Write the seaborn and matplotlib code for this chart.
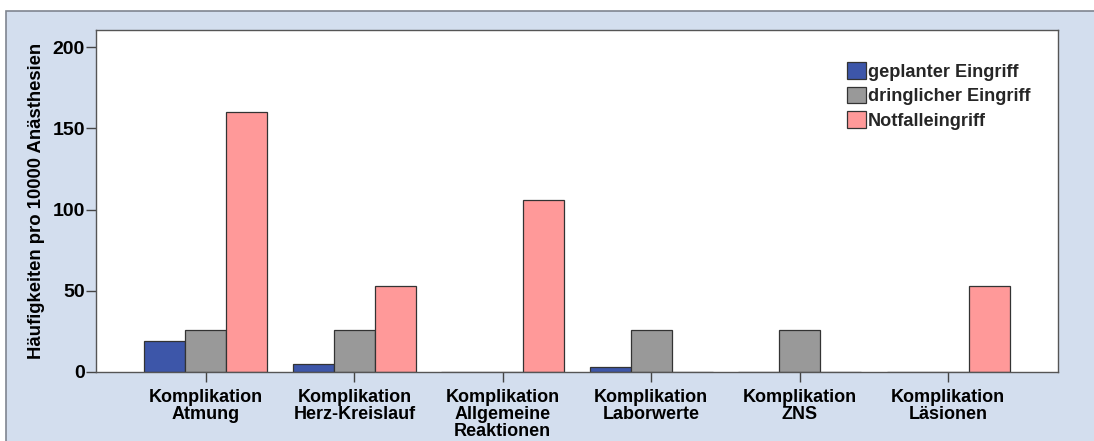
import numpy as np
import pandas as pd
import matplotlib
matplotlib.use("Agg")
import matplotlib.pyplot as plt
from matplotlib.patches import Rectangle
import seaborn as sns

# Complication categories (x axis)
categories = [
    "Komplikation\nAtmung",
    "Komplikation\nHerz-Kreislauf",
    "Komplikation\nAllgemeine\nReaktionen",
    "Komplikation\nLaborwerte",
    "Komplikation\nZNS",
    "Komplikation\nLäsionen",
]

# Rates per 10000 anaesthesias for each type of procedure
geplant = [19, 5, 0, 3, 0, 0]
dringlich = [26, 26, 0, 26, 26, 0]
notfall = [160, 53, 106, 0, 0, 53]

series_names = ["geplanter Eingriff", "dringlicher Eingriff", "Notfalleingriff"]
series_colors = ["#3D56A9", "#999999", "#FF9999"]

y_ticks = [0, 50, 100, 150, 200]

df = pd.DataFrame({
    "Kategorie": categories * 3,
    "Wert": geplant + dringlich + notfall,
    "Eingriff": sum([[s] * len(categories) for s in series_names], []),
})

sns.set_theme(style="white")
plt.rcParams["font.family"] = ["Liberation Sans", "DejaVu Sans"]
plt.rcParams["font.weight"] = "bold"

fig = plt.figure(figsize=(10.94, 4.41), dpi=100)
fig.patch.set_facecolor("white")

# Light-blue chart panel with a grey border, kept behind the axes
panel = Rectangle((6 / 1094, -0.01), 1.1, (441 - 11) / 441 + 0.01,
                  transform=fig.transFigure, facecolor="#D3DEEE",
                  edgecolor="#7F8590", linewidth=1.2, zorder=-10)
fig.patches.append(panel)

ax = fig.add_axes([96 / 1094, (441 - 372) / 441, 962 / 1094, 342 / 441])
ax.set_zorder(1)
ax.set_facecolor("white")

sns.barplot(data=df, x="Kategorie", y="Wert", hue="Eingriff",
            order=categories, hue_order=series_names,
            palette=series_colors, saturation=1, width=0.83, gap=0,
            edgecolor="#333333", linewidth=0.9, ax=ax)

ax.set_xlim(-0.74, len(categories) - 1 + 0.74)
ax.set_ylim(0, 210.5)
ax.set_yticks(y_ticks)
ax.set_yticklabels([str(t) for t in y_ticks])

ax.set_xlabel("")
ax.set_ylabel("Häufigkeiten pro 10000 Anästhesien", fontsize=13.3,
              fontweight="bold", color="black", labelpad=5)

ax.tick_params(axis="x", which="major", direction="out", length=7.5, width=1,
               color="#444444", labelsize=13, pad=4.5, bottom=True)
ax.tick_params(axis="y", which="major", direction="out", length=7, width=1,
               color="#444444", labelsize=14, pad=1, left=True)
for lbl in ax.get_xticklabels():
    lbl.set_linespacing(1.02)
for lbl in ax.get_xticklabels() + ax.get_yticklabels():
    lbl.set_fontweight("bold")
    lbl.set_color("black")

for side, spine in ax.spines.items():
    spine.set_visible(True)
    spine.set_color("#555555")
    spine.set_linewidth(1.0)

handles, labels = ax.get_legend_handles_labels()
ax.legend(handles, labels, loc="upper left", bbox_to_anchor=(0.781, 0.905),
          frameon=False, prop={"weight": "bold", "size": 13.1},
          handlelength=1.0, handleheight=1.0, handletextpad=0.12,
          labelspacing=0.33, borderpad=0, borderaxespad=0)

fig.savefig("out.png", dpi=100, facecolor=fig.get_facecolor())
